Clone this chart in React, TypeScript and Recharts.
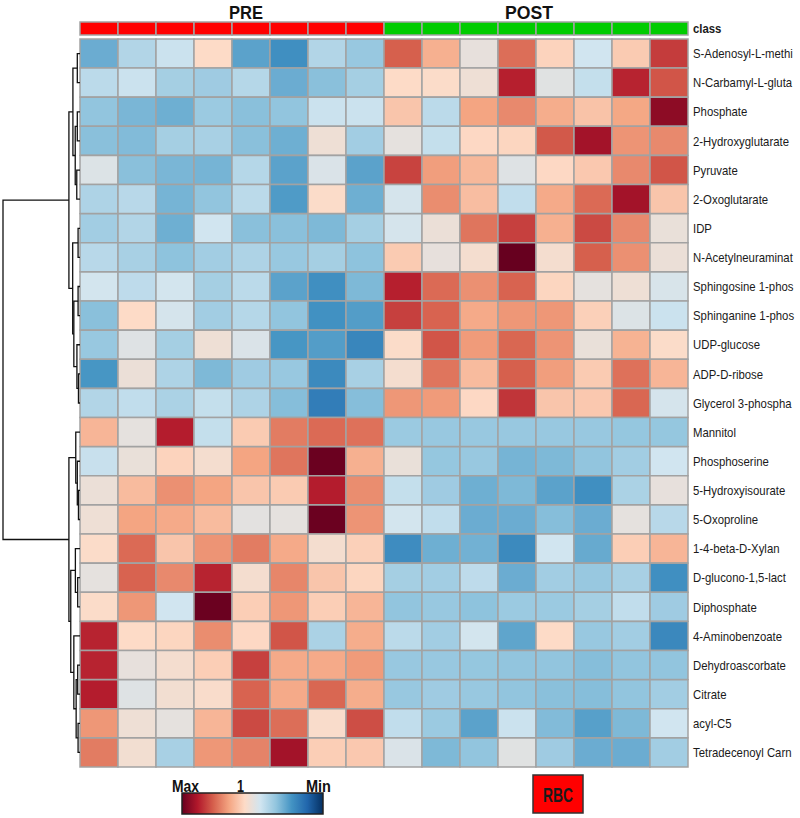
import React from 'react';
import { BarChart, Bar, XAxis, YAxis, Cell, ScatterChart, Scatter } from 'recharts';

// ---------- data ----------
const metabolites = [
  'S-Adenosyl-L-methi', 'N-Carbamyl-L-gluta', 'Phosphate', '2-Hydroxyglutarate', 'Pyruvate',
  '2-Oxoglutarate', 'IDP', 'N-Acetylneuraminat', 'Sphingosine 1-phos', 'Sphinganine 1-phos',
  'UDP-glucose', 'ADP-D-ribose', 'Glycerol 3-phospha', 'Mannitol', 'Phosphoserine',
  '5-Hydroxyisourate', '5-Oxoproline', '1-4-beta-D-Xylan', 'D-glucono-1,5-lact', 'Diphosphate',
  '4-Aminobenzoate', 'Dehydroascorbate', 'Citrate', 'acyl-C5', 'Tetradecenoyl Carn',
];

const samples = ['PRE1', 'PRE2', 'PRE3', 'PRE4', 'PRE5', 'PRE6', 'PRE7', 'PRE8',
  'POST1', 'POST2', 'POST3', 'POST4', 'POST5', 'POST6', 'POST7', 'POST8'];
const sampleClass = ['PRE', 'PRE', 'PRE', 'PRE', 'PRE', 'PRE', 'PRE', 'PRE',
  'POST', 'POST', 'POST', 'POST', 'POST', 'POST', 'POST', 'POST'];
const classColors: Record<string, string> = { PRE: '#ff0000', POST: '#00cc00' };
const classLabel = 'class';
const groupTitles = ['PRE', 'POST'];
const legendLabels = ['Max', '1', 'Min'];
const badgeLabel = 'RBC';

// scaled values (Min = -4.5 ... Max = 4.5), one row per metabolite, columns = samples
const heat: number[][] = [
  [-2.0, -1.0, -0.6, 0.5, -2.2, -2.6, -1.0, -1.4, 2.5, 1.3, 0.0, 2.3, 0.65, -0.5, 0.8, 3.0],
  [-0.85, -0.6, -1.2, -1.3, -0.95, -2.0, -1.6, -1.2, 0.5, 0.45, 0.15, 3.4, -0.15, -0.7, 3.35, 2.65],
  [-1.5, -1.8, -1.95, -1.35, -1.6, -1.5, -0.6, -0.6, 0.9, -0.85, 1.5, 1.9, 1.35, 0.95, 1.45, 4.0],
  [-1.6, -1.7, -1.2, -1.15, -1.6, -1.95, 0.15, -1.25, -0.05, -0.7, 0.55, 0.6, 2.6, 3.7, 1.75, 1.9],
  [-0.25, -1.6, -1.8, -1.85, -0.95, -2.2, -0.3, -2.2, 2.9, 1.6, 1.15, -0.2, 0.55, 0.85, 1.9, 2.65],
  [-1.05, -0.9, -1.85, -1.5, -0.85, -2.35, 0.45, -1.95, -0.4, 1.85, 1.05, -0.75, 1.4, 2.35, 3.7, 0.9],
  [-1.25, -1.0, -1.95, -0.5, -1.6, -1.6, -1.75, -1.2, -0.4, 0.1, 2.2, 2.95, 1.3, 2.8, 1.9, 0.05],
  [-0.9, -1.15, -1.55, -1.25, -1.05, -1.4, -1.2, -1.55, 0.8, 0.0, 0.3, 4.5, 0.3, 2.5, 1.8, 0.1],
  [-0.45, -0.8, -0.45, -1.2, -0.85, -2.2, -2.6, -1.75, 3.4, 2.35, 1.8, 2.45, 0.6, -0.05, 0.15, -0.35],
  [-1.6, 0.5, -0.4, -1.25, -0.95, -1.5, -2.55, -2.3, 2.95, 2.45, 1.4, 1.7, 1.7, 0.7, -0.25, -0.6],
  [-1.4, -0.2, -1.2, 0.15, -0.3, -2.45, -2.3, -2.8, 0.45, 2.65, 1.65, 2.4, 1.75, 0.05, 1.25, 0.45],
  [-2.45, 0.1, -1.05, -1.75, -1.3, -1.4, -2.7, -1.15, 0.3, 2.2, 1.1, 2.5, 1.6, 0.8, 2.25, 1.2],
  [-1.0, -0.75, -1.1, -0.7, -1.05, -1.65, -3.0, -1.65, 1.7, 1.65, 0.55, 3.1, 0.9, 0.85, 2.4, -0.4],
  [1.2, -0.05, 3.45, -0.7, 0.8, 2.1, 2.35, 2.25, -1.35, -1.4, -1.4, -1.4, -1.4, -1.4, -1.45, -1.45],
  [-0.65, 0.05, 0.65, 0.3, 1.5, 2.2, 4.45, 1.3, 0.05, -1.45, -1.4, -1.85, -1.75, -1.5, -1.25, -0.5],
  [0.1, 1.1, 1.8, 1.5, 0.9, 0.8, 3.45, 1.85, -0.7, -1.3, -1.95, -1.75, -2.2, -2.6, -1.1, 0.0],
  [0.15, 1.5, 1.4, 1.1, -0.1, -0.05, 4.45, 1.75, -0.45, -0.75, -2.0, -2.0, -1.65, -2.0, -0.05, -0.9],
  [0.45, 2.35, 0.9, 1.75, 2.1, 1.4, 0.3, 0.7, -2.65, -1.95, -1.9, -2.7, -0.5, -2.05, 0.75, 1.2],
  [-0.05, 2.45, 1.9, 3.35, 0.3, 1.95, 0.9, 0.6, -1.2, -1.25, -0.8, -2.0, -1.25, -1.4, -1.15, -2.6],
  [0.45, 1.7, -0.5, 4.45, 0.75, 1.7, 0.75, 1.2, -1.5, -1.4, -1.55, -1.35, -1.35, -1.2, -0.75, -1.3],
  [3.35, 0.5, 0.6, 1.85, 0.55, 2.65, -1.1, 1.35, -0.85, -1.25, -0.45, -2.15, 0.5, -1.4, -1.25, -2.75],
  [3.35, 0.0, 0.3, 0.75, 2.95, 1.4, 1.4, 1.65, -1.4, -1.4, -1.45, -1.5, -1.5, -1.65, -1.5, -1.5],
  [3.45, -0.2, 0.25, 0.4, 2.45, 1.4, 2.4, 1.35, -1.4, -1.3, -1.4, -1.5, -1.6, -1.65, -1.5, -1.25],
  [1.7, 0.15, -0.05, 1.2, 2.8, 2.3, 0.4, 2.75, -0.75, -1.35, -2.2, -0.6, -1.7, -2.25, -1.75, -0.5],
  [2.1, 0.25, -1.15, 1.7, 2.0, 3.7, 0.75, 0.85, -0.3, -1.75, -1.5, -0.15, -1.3, -2.0, -2.0, -1.25],
];

// dendrogram merges: [left, right, height]; numbers = row index, 'nK' = merge K
const merges: [number | string, number | string, number][] = [
  [0, 1, 0.35], [2, 3, 0.35], [4, 5, 0.42], ['n1', 'n2', 0.62], ['n0', 'n3', 0.92],
  [6, 7, 0.25], [8, 9, 0.25], [11, 12, 0.2], [10, 'n7', 0.4], ['n6', 'n8', 0.8],
  ['n5', 'n9', 0.95], ['n4', 'n10', 1.44],
  [15, 16, 0.2], [14, 'n12', 0.35], [13, 'n13', 0.55], [18, 19, 0.3], [17, 'n15', 0.6],
  [21, 22, 0.3], [23, 24, 0.25], ['n17', 'n18', 0.5], [20, 'n19', 0.8], ['n16', 'n20', 1.2],
  ['n14', 'n21', 1.44], ['n11', 'n22', 10],
];

// ---------- colour scale ----------
const paletteStops = ['#053061', '#2166AC', '#4393C3', '#92C5DE', '#D1E5F0', '#FDDBC7', '#F4A582', '#D6604D', '#B2182B', '#67001F'];
const valueMin = -4.5;
const valueMax = 4.5;

const hexToRgb = (h: string) => [parseInt(h.slice(1, 3), 16), parseInt(h.slice(3, 5), 16), parseInt(h.slice(5, 7), 16)];
function colorFor(v: number): string {
  const t = Math.max(0, Math.min(1, (v - valueMin) / (valueMax - valueMin))) * (paletteStops.length - 1);
  const i = Math.min(paletteStops.length - 2, Math.floor(t));
  const f = t - i;
  const a = hexToRgb(paletteStops[i]);
  const b = hexToRgb(paletteStops[i + 1]);
  const c = a.map((x, k) => Math.round(x + (b[k] - x) * f));
  return `rgb(${c[0]},${c[1]},${c[2]})`;
}

// ---------- derived tables ----------
const heatRows = metabolites.map((name) => {
  const row: Record<string, any> = { name };
  samples.forEach((_, j) => { row[`c${j}`] = 1; });
  return row;
});
const classRows = [(() => {
  const row: Record<string, any> = { name: classLabel };
  samples.forEach((_, j) => { row[`c${j}`] = 1; });
  return row;
})()];

type Pos = { y: number; h: number };
const nodePos: Pos[] = [];
const posOf = (k: number | string): Pos =>
  typeof k === 'number' ? { y: k + 0.5, h: 0 } : nodePos[parseInt(k.slice(1), 10)];
const dendroPaths = merges.map(([a, b, h]) => {
  const pa = posOf(a);
  const pb = posOf(b);
  nodePos.push({ y: (pa.y + pb.y) / 2, h });
  return [
    { x: pa.h, y: pa.y }, { x: h, y: pa.y }, { x: h, y: pb.y }, { x: pb.h, y: pb.y },
  ];
});

const FONT = 'Liberation Sans, Arial, sans-serif';

const RowTick = (props: any) => {
  const { x, y, payload, bold } = props;
  return (
    <g transform={`translate(${x},${y})`}>
      <text transform="scale(0.875,1)" dy="0.36em" fontSize={13} fontFamily={FONT}
        fontWeight={bold ? 'bold' : 'normal'} fill="#1a1a1a" textAnchor="start">
        {payload.value}
      </text>
    </g>
  );
};

const gridStroke = '#a2a2a2';

export default function App() {
  return (
    <div style={{ position: 'absolute', left: 0, top: 0, width: 800, height: 818, background: '#fff', overflow: 'hidden' }}>
      {/* heatmap */}
      <div style={{ position: 'absolute', left: 0, top: 0 }}>
        <BarChart width={800} height={818} data={heatRows} layout="vertical"
          margin={{ top: 39, right: 0, bottom: 51, left: 80 }} barCategoryGap={0} barGap={0}>
          <XAxis type="number" domain={[0, samples.length]} hide />
          <YAxis type="category" dataKey="name" orientation="right" width={112}
            axisLine={false} tickLine={false} tickSize={4} tickMargin={1} interval={0}
            tick={<RowTick />} />
          {samples.map((s, j) => (
            <Bar key={s} dataKey={`c${j}`} stackId="h" isAnimationActive={false}
              stroke={gridStroke} strokeWidth={1.5}>
              {heat.map((row, i) => <Cell key={i} fill={colorFor(row[j])} />)}
            </Bar>
          ))}
        </BarChart>
      </div>

      {/* class bar */}
      <div style={{ position: 'absolute', left: 0, top: 0 }}>
        <BarChart width={800} height={40} data={classRows} layout="vertical"
          margin={{ top: 22, right: 0, bottom: 5, left: 80 }} barCategoryGap={0} barGap={0}>
          <XAxis type="number" domain={[0, samples.length]} hide />
          <YAxis type="category" dataKey="name" orientation="right" width={112}
            axisLine={false} tickLine={false} tickSize={4} tickMargin={1} interval={0}
            tick={<RowTick bold />} />
          {samples.map((s, j) => (
            <Bar key={s} dataKey={`c${j}`} stackId="c" isAnimationActive={false}
              stroke={gridStroke} strokeWidth={1.5}>
              <Cell fill={classColors[sampleClass[j]]} />
            </Bar>
          ))}
        </BarChart>
      </div>

      {/* dendrogram */}
      <div style={{ position: 'absolute', left: 0, top: 0 }}>
        <ScatterChart width={80} height={818} margin={{ top: 39, right: 0, bottom: 51, left: 3 }}>
          <XAxis type="number" dataKey="x" domain={[0, 10]} reversed hide />
          <YAxis type="number" dataKey="y" domain={[0, metabolites.length]} reversed hide />
          {dendroPaths.map((pts, k) => (
            <Scatter key={k} data={pts} isAnimationActive={false}
              line={{ stroke: '#111', strokeWidth: 1.3 }} shape={() => <g />} />
          ))}
        </ScatterChart>
      </div>

      {/* titles and legend */}
      <svg width={800} height={818} style={{ position: 'absolute', left: 0, top: 0, pointerEvents: 'none' }}>
        <defs>
          <linearGradient id="cbar" x1="0" x2="1" y1="0" y2="0">
            {[...paletteStops].reverse().map((c, i) => (
              <stop key={i} offset={`${(i / (paletteStops.length - 1)) * 100}%`} stopColor={c} />
            ))}
          </linearGradient>
        </defs>
        <text x={229} y={18.8} fontSize={19} fontWeight="bold" fontFamily={FONT}
          textLength={34} lengthAdjust="spacingAndGlyphs" fill="#111">{groupTitles[0]}</text>
        <text x={505} y={18.8} fontSize={19} fontWeight="bold" fontFamily={FONT}
          textLength={48} lengthAdjust="spacingAndGlyphs" fill="#111">{groupTitles[1]}</text>

        <rect x={182} y={793} width={141} height={21} fill="url(#cbar)" stroke="#222" strokeWidth={1.5} />
        <text x={172} y={791.5} fontSize={17} fontWeight="bold" fontFamily={FONT}
          textLength={27} lengthAdjust="spacingAndGlyphs" fill="#111">{legendLabels[0]}</text>
        <text x={237} y={791.5} fontSize={17} fontWeight="bold" fontFamily={FONT}
          textLength={7} lengthAdjust="spacingAndGlyphs" fill="#111">{legendLabels[1]}</text>
        <text x={306} y={791.5} fontSize={17} fontWeight="bold" fontFamily={FONT}
          textLength={25} lengthAdjust="spacingAndGlyphs" fill="#111">{legendLabels[2]}</text>

        <rect x={533} y={775} width={50} height={38} fill="#ff0000" stroke="#333" strokeWidth={1.5} />
        <text x={543} y={802} fontSize={21} fontWeight={600} fontFamily={FONT}
          textLength={30} lengthAdjust="spacingAndGlyphs" fill="#1a1a1a">{badgeLabel}</text>
      </svg>
    </div>
  );
}
